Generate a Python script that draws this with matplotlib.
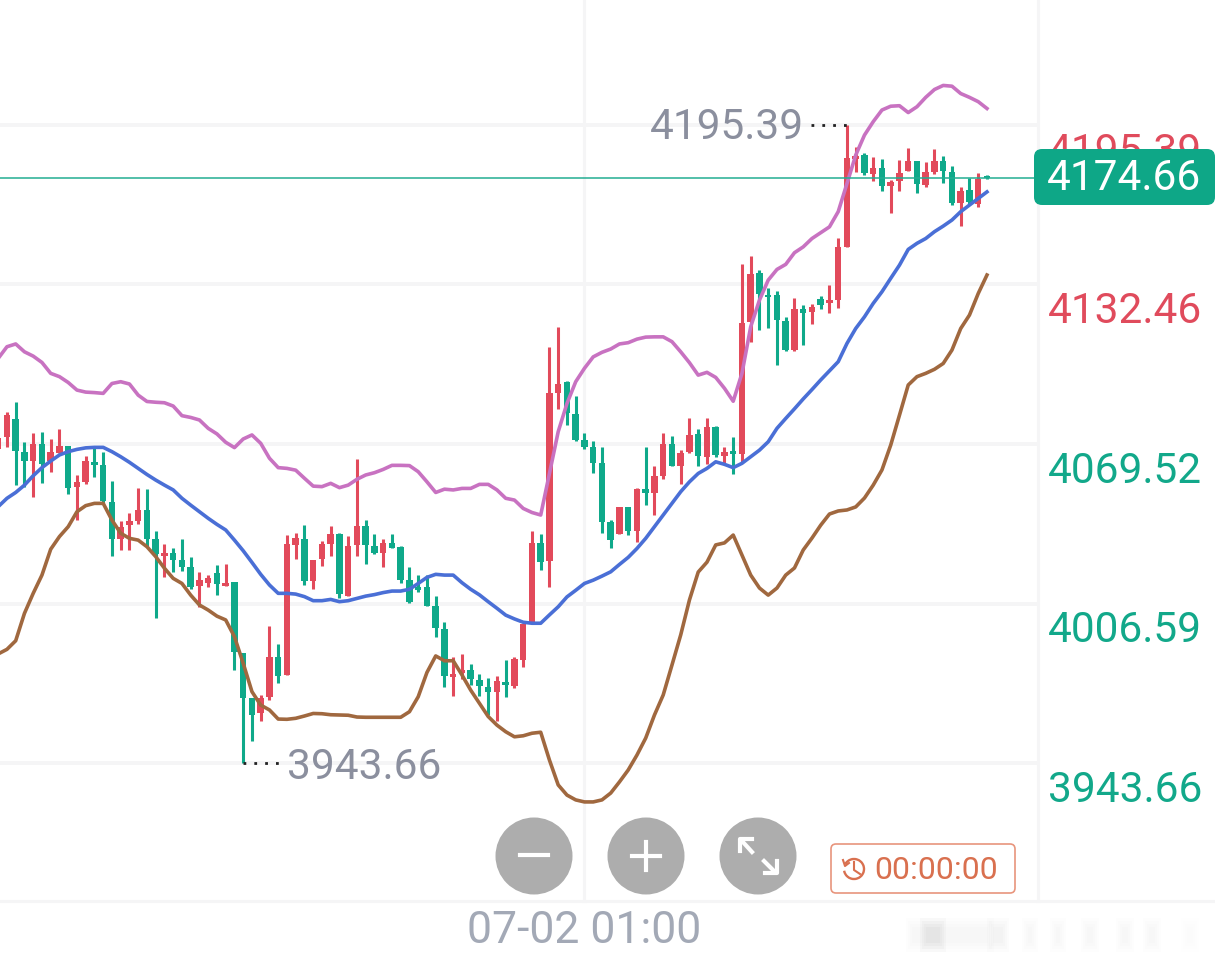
import numpy as np
import matplotlib
matplotlib.use("Agg")
import matplotlib.pyplot as plt
from matplotlib.patches import Arc, Circle, FancyBboxPatch

plt.rcParams['font.family'] = ['Roboto', 'DejaVu Sans']

high = [4075.0, 4082.0, 4086.0, 4070.2, 4074.0, 4074.4, 4071.6, 4075.4, 4068.9, 4057.3,
        4064.8, 4067.8, 4066.5, 4055.1, 4039.3, 4042.2, 4052.3, 4051.6, 4035.2, 4030.1,
        4028.4, 4031.9, 4025.1, 4019.2, 4017.8, 4021.8, 4022.2, 4015.0, 3986.9, 3969.5,
        3970.5, 3997.7, 3990.5, 4033.6, 4034.5, 4037.6, 4023.8, 4031.3, 4037.2, 4034.3,
        4033.2, 4063.5, 4039.5, 4033.9, 4032.0, 4033.9, 4029.3, 4020.9, 4017.8, 4017.8,
        4009.6, 3999.4, 3985.6, 3986.7, 3982.7, 3978.7, 3977.3, 3978.0, 3984.3, 3985.6,
        3998.4, 4035.3, 4033.9, 4107.9, 4115.8, 4094.5, 4088.4, 4073.7, 4070.7, 4068.2,
        4039.5, 4044.8, 4044.8, 4052.3, 4068.4, 4060.8, 4074.0, 4072.6, 4067.1, 4079.6,
        4075.3, 4079.9, 4076.7, 4068.4, 4072.1, 4140.4, 4143.8, 4138.1, 4130.9, 4130.0,
        4119.7, 4127.0, 4124.3, 4124.7, 4127.9, 4132.2, 4150.9, 4195.39, 4186.8, 4184.4,
        4182.6, 4181.8, 4173.6, 4181.5, 4186.5, 4181.3, 4180.9, 4186.1, 4183.1, 4179.2,
        4171.0, 4174.6, 4176.3, 4175.5]
low = [4064.8, 4068.5, 4053.4, 4052.4, 4048.5, 4054.0, 4058.6, 4065.8, 4049.8, 4039.5,
       4053.7, 4056.4, 4046.1, 4025.3, 4027.7, 4027.7, 4037.8, 4029.0, 4000.8, 4016.9,
       4018.9, 4019.6, 4012.2, 4005.4, 4013.0, 4009.8, 4013.5, 3980.4, 3943.66, 3952.5,
       3960.4, 3968.5, 3975.4, 3978.4, 4024.0, 4013.9, 4012.3, 4021.5, 4025.5, 4008.9,
       4009.7, 4025.5, 4022.2, 4026.0, 4020.9, 4028.4, 4014.8, 4006.7, 4011.3, 4005.6,
       3993.3, 3973.8, 3970.1, 3976.7, 3974.4, 3970.1, 3962.6, 3960.2, 3969.6, 3973.1,
       3981.7, 3998.8, 4019.8, 4013.0, 4083.2, 4077.0, 4070.8, 4067.5, 4057.9, 4034.6,
       4028.6, 4034.0, 4033.6, 4031.0, 4045.4, 4041.5, 4055.7, 4060.8, 4053.6, 4066.1,
       4060.8, 4061.6, 4064.2, 4061.9, 4057.6, 4062.5, 4109.9, 4114.5, 4115.1, 4100.7,
       4106.3, 4106.3, 4108.6, 4116.7, 4122.6, 4121.4, 4123.3, 4147.3, 4176.7, 4175.6,
       4173.4, 4169.4, 4160.8, 4169.4, 4177.2, 4168.7, 4171.0, 4176.0, 4172.6, 4163.8,
       4155.6, 4164.4, 4163.1, 4173.9]
open_ = [4067.4, 4072.4, 4079.3, 4066.5, 4063.0, 4069.4, 4063.0, 4066.1, 4068.9, 4052.4,
         4054.7, 4062.3, 4061.2, 4046.8, 4031.9, 4037.7, 4039.3, 4043.5, 4031.9, 4025.3,
         4026.7, 4023.8, 4020.9, 4013.6, 4014.6, 4018.5, 4013.6, 4015.0, 3986.9, 3969.2,
         3963.3, 3969.8, 3985.4, 3978.4, 4029.7, 4032.0, 4015.6, 4024.0, 4030.1, 4034.0,
         4009.7, 4029.5, 4037.2, 4029.3, 4026.4, 4030.6, 4028.8, 4015.9, 4013.2, 4013.2,
         4005.6, 3996.4, 3977.7, 3979.0, 3980.4, 3976.4, 3973.8, 3971.8, 3975.8, 3974.1,
         3984.3, 3998.8, 4030.3, 4023.5, 4089.7, 4093.8, 4081.2, 4071.1, 4068.2, 4062.1,
         4038.8, 4034.2, 4044.8, 4035.3, 4051.6, 4050.3, 4057.0, 4069.7, 4060.8, 4066.3,
         4073.4, 4064.5, 4076.3, 4064.9, 4066.7, 4065.4, 4117.8, 4136.8, 4128.5, 4128.3,
         4118.2, 4106.8, 4122.6, 4121.7, 4126.6, 4125.0, 4126.3, 4147.3, 4181.9, 4183.5,
         4175.9, 4178.6, 4171.3, 4173.4, 4177.2, 4181.1, 4171.7, 4176.9, 4181.1, 4176.9,
         4164.7, 4169.7, 4164.4, 4175.2]
close = [4071.8, 4081.0, 4066.9, 4063.0, 4069.5, 4061.5, 4066.4, 4068.7, 4052.3, 4054.5,
         4063.0, 4061.1, 4047.0, 4031.9, 4036.7, 4039.3, 4043.5, 4031.9, 4026.1, 4026.7,
         4023.8, 4021.1, 4013.2, 4015.9, 4016.5, 4014.3, 4014.6, 3987.6, 3969.5, 3962.6,
         3969.5, 3985.4, 3978.0, 4030.1, 4032.3, 4015.6, 4023.8, 4030.1, 4034.0, 4010.2,
         4029.3, 4037.2, 4029.5, 4026.4, 4030.6, 4028.6, 4015.9, 4007.3, 4011.9, 4005.6,
         3996.8, 3978.0, 3978.8, 3980.4, 3976.7, 3974.1, 3971.8, 3976.2, 3974.4, 3984.6,
         3998.4, 4030.6, 4022.8, 4089.7, 4093.2, 4081.6, 4071.1, 4068.2, 4062.2, 4038.8,
         4031.6, 4044.8, 4035.2, 4051.7, 4050.0, 4056.9, 4069.7, 4060.8, 4066.1, 4073.0,
         4064.7, 4076.1, 4065.1, 4066.2, 4065.4, 4117.4, 4136.6, 4128.9, 4127.4, 4118.4,
         4106.8, 4122.6, 4121.4, 4123.7, 4124.3, 4126.3, 4147.3, 4182.2, 4183.1, 4176.3,
         4178.6, 4171.3, 4173.0, 4176.5, 4181.1, 4172.3, 4176.9, 4181.1, 4177.3, 4164.7,
         4169.4, 4165.1, 4173.9, 4174.66]

boll_upper = [4103.3, 4107.9, 4109.0, 4105.9, 4104.2, 4101.7, 4097.4, 4096.1, 4093.8, 4090.8,
              4090.0, 4089.8, 4089.5, 4093.4, 4094.1, 4093.2, 4088.8, 4086.3, 4086.0, 4085.8,
              4084.5, 4080.7, 4080.0, 4079.0, 4075.7, 4073.5, 4070.2, 4068.1, 4071.5, 4073.1,
              4069.8, 4063.9, 4060.2, 4059.9, 4059.2, 4056.0, 4052.9, 4052.7, 4054.0, 4052.3,
              4053.3, 4055.6, 4057.3, 4058.2, 4059.5, 4061.1, 4061.1, 4061.0, 4058.6, 4054.6,
              4050.4, 4051.7, 4051.4, 4052.0, 4052.0, 4053.6, 4053.6, 4051.4, 4048.1, 4047.4,
              4044.1, 4042.5, 4041.5, 4057.9, 4074.4, 4085.5, 4094.1, 4099.4, 4103.9, 4105.7,
              4107.0, 4109.0, 4109.5, 4110.9, 4111.7, 4111.8, 4111.8, 4109.9, 4105.9, 4101.6,
              4096.7, 4097.8, 4095.8, 4091.5, 4086.4, 4097.4, 4115.8, 4126.3, 4134.2, 4138.4,
              4140.4, 4145.0, 4147.3, 4150.6, 4152.9, 4155.2, 4161.2, 4172.3, 4183.5, 4191.4,
              4196.7, 4201.3, 4202.8, 4203.0, 4200.3, 4202.6, 4206.3, 4209.4, 4211.0, 4210.7,
              4207.8, 4206.3, 4204.6, 4201.9]
boll_mid = [4044.8, 4048.1, 4050.4, 4053.3, 4057.0, 4060.2, 4062.8, 4065.2, 4066.5, 4067.4,
            4068.0, 4068.2, 4068.2, 4066.5, 4064.5, 4062.3, 4059.9, 4057.5, 4055.3, 4053.3,
            4051.4, 4048.1, 4045.4, 4042.8, 4040.2, 4037.8, 4035.6, 4031.6, 4027.4, 4022.8,
            4018.1, 4013.9, 4010.6, 4010.6, 4010.3, 4009.3, 4007.7, 4007.7, 4008.2, 4007.3,
            4007.7, 4008.6, 4009.5, 4010.1, 4010.9, 4011.5, 4011.5, 4012.2, 4014.5, 4016.9,
            4018.1, 4017.8, 4017.8, 4014.8, 4012.2, 4010.0, 4007.3, 4004.7, 4002.0, 4000.5,
            3999.2, 3998.8, 3998.8, 4002.1, 4005.3, 4009.2, 4011.8, 4014.5, 4015.8, 4017.4,
            4019.1, 4022.0, 4024.8, 4028.3, 4032.3, 4036.9, 4041.5, 4046.1, 4050.7, 4054.6,
            4057.9, 4059.9, 4062.5, 4061.5, 4060.2, 4061.9, 4064.5, 4067.1, 4070.4, 4075.7,
            4079.6, 4083.4, 4087.3, 4091.0, 4094.8, 4098.4, 4102.0, 4109.2, 4115.1, 4119.7,
            4125.0, 4129.6, 4134.9, 4140.1, 4146.3, 4148.7, 4150.6, 4153.3, 4155.5, 4157.9,
            4161.2, 4163.8, 4166.4, 4169.0]
boll_lower = [3986.7, 3988.5, 3991.9, 4002.7, 4010.6, 4017.8, 4028.0, 4033.0, 4036.9, 4042.8,
              4045.2, 4046.1, 4046.1, 4039.5, 4034.3, 4032.3, 4031.6, 4029.0, 4025.1, 4020.5,
              4016.5, 4014.5, 4009.9, 4006.0, 4004.0, 4001.6, 4000.1, 3993.5, 3983.0, 3971.8,
              3966.5, 3964.6, 3961.0, 3960.9, 3961.3, 3962.2, 3963.2, 3963.1, 3962.7, 3962.6,
              3962.5, 3961.8, 3961.7, 3961.7, 3961.7, 3961.7, 3961.7, 3963.9, 3969.8, 3979.4,
              3985.9, 3984.0, 3984.0, 3978.4, 3972.4, 3967.2, 3962.0, 3958.6, 3956.0, 3954.0,
              3954.4, 3955.4, 3955.8, 3944.8, 3935.0, 3931.0, 3929.1, 3928.3, 3928.3, 3929.1,
              3931.8, 3936.2, 3940.9, 3946.8, 3953.5, 3962.6, 3970.5, 3982.3, 3994.2, 4008.0,
              4019.0, 4022.9, 4029.7, 4030.5, 4033.6, 4025.7, 4017.8, 4012.7, 4009.9, 4012.7,
              4017.8, 4020.6, 4027.7, 4032.4, 4037.5, 4041.9, 4043.1, 4043.5, 4044.7, 4048.2,
              4053.3, 4059.3, 4069.1, 4080.9, 4092.8, 4096.1, 4097.4, 4099.0, 4101.3, 4106.6,
              4115.1, 4120.4, 4128.9, 4136.2]

price_ticks = [4195.39, 4132.46, 4069.52, 4006.59, 3943.66]
price_colors = ['#e04b5c', '#e04b5c', '#12a88a', '#12a88a', '#12a88a']
time_tick = 67
time_label = '07-02 01:00'
last_price = 4174.66
period_high = 4195.39
period_low = 3943.66
high_idx = 97
low_idx = 28
countdown = '00:00:00'

UP = '#e24a5b'
DOWN = '#0fa98a'
GRID = '#f5f5f6'

fig = plt.figure(figsize=(12.15, 9.6), dpi=100)
ax = fig.add_axes([0, 0, 1, 1])
ax.set_xlim(0.206, 139.06)
ax.set_ylim(3865.93, 4244.71)
ax.axis('off')

x = np.arange(len(close))
o = np.array(open_)
c = np.array(close)
colors = [UP if b >= a else DOWN for a, b in zip(o, c)]

# grid stops at the price column
panel_x = 0.8543
panel_bottom = 0.0615
ytrans = ax.get_yaxis_transform()
xtrans = ax.get_xaxis_transform()
for p in price_ticks:
    ax.plot([0, panel_x], [p, p], transform=ytrans, color=GRID, lw=2.8, zorder=1, clip_on=False)
ax.plot([panel_x, panel_x], [panel_bottom, 1], transform=ax.transAxes, color=GRID, lw=2.2, zorder=1)
ax.plot([0, 1], [panel_bottom, panel_bottom], transform=ax.transAxes, color=GRID, lw=2.2, zorder=1)
ax.plot([time_tick, time_tick], [panel_bottom, 1], transform=xtrans, color=GRID, lw=2.2, zorder=1)

# candles
ax.vlines(x, low, high, colors=colors, lw=2.2, zorder=3)
ax.bar(x, np.abs(c - o), bottom=np.minimum(o, c), width=0.74, color=colors, zorder=3)

ax.plot(x, boll_upper, color='#c872c1', lw=2.6, zorder=4, solid_joinstyle='round')
ax.plot(x, boll_mid, color='#4a6fd6', lw=2.6, zorder=4, solid_joinstyle='round')
ax.plot(x, boll_lower, color='#a0683f', lw=2.6, zorder=4, solid_joinstyle='round')

ax.axhline(last_price, color='#23ad92', lw=1.1, zorder=5)

# high / low markers
ax.plot([high_idx - 4.1, high_idx], [period_high, period_high], color='#222222', lw=2.0,
        ls=(0, (1.0, 2.9)), zorder=5)
ax.plot([low_idx, low_idx + 4.2], [period_low, period_low], color='#222222', lw=2.0,
        ls=(0, (1.0, 2.9)), zorder=5)
ax.annotate(f'{period_high:.2f}', xy=(high_idx - 4.9, period_high), xytext=(0, -1.6),
            textcoords='offset points', color='#8b8f9e', fontsize=30.5, ha='right', va='center', zorder=5)
ax.annotate(f'{period_low:.2f}', xy=(low_idx + 5.0, period_low), xytext=(0, -3.5),
            textcoords='offset points', color='#8b8f9e', fontsize=30.5, ha='left', va='center', zorder=5)

# price column labels sit just under their grid lines
for p, col in zip(price_ticks, price_colors):
    ax.annotate(f'{p:.2f}', xy=(0.8626, p), xycoords=ytrans, xytext=(0, -19.5),
                textcoords='offset points', color=col, fontsize=30.5, ha='left', va='center')

ax.text(time_tick, 0.0305, time_label, transform=xtrans, color='#a3a9b6', fontsize=32,
        ha='center', va='center')

# overlay in screen pixels for the widgets
ui = fig.add_axes([0, 0, 1, 1], facecolor='none')
ui.set_xlim(0, 1215)
ui.set_ylim(960, 0)
ui.axis('off')

ui.add_patch(FancyBboxPatch((1038, 153), 173, 48, boxstyle='round,pad=4,rounding_size=8',
                            fc='#0ea787', ec='none', zorder=6))
ui.text(1124.5, 179, f'{last_price:.2f}', color='white', fontsize=30.5, ha='center', va='center',
        zorder=7)

for cx in (534, 646, 758):
    ui.add_patch(Circle((cx, 856), 38.5, fc='#adadad', ec='none', zorder=6))
ui.plot([520, 548], [855, 855], color='white', lw=3, zorder=7)
ui.plot([632, 660], [856, 856], color='white', lw=3, zorder=7)
ui.plot([646, 646], [842, 870], color='white', lw=3, zorder=7)
# expand icon
ui.plot([742, 752], [841, 852], color='white', lw=3, zorder=7)
ui.plot([740, 740, 752], [851, 839, 839], color='white', lw=3, zorder=7)
ui.plot([764, 775], [861, 872], color='white', lw=3, zorder=7)
ui.plot([777, 777, 765], [861, 873, 873], color='white', lw=3, zorder=7)

ui.add_patch(FancyBboxPatch((834, 847), 178, 43, boxstyle='round,pad=3,rounding_size=5',
                            fc='white', ec='#e8957d', lw=1.2, zorder=6))
ui.add_patch(Arc((854, 869), 20, 20, theta1=-150, theta2=170, ec='#d9704f', lw=1.7, zorder=7))
ui.plot([854, 854, 860], [862, 870, 874], color='#d9704f', lw=1.5, zorder=7)
ui.plot([843, 845, 849], [860, 866, 863], color='#d9704f', lw=1.5, zorder=7)
ui.text(936.5, 870.5, countdown, color='#d9704f', fontsize=23, ha='center', va='center', zorder=7)

# faint smudge at the bottom right, stacked so the edges fade out
for sx, sw, a in [(933, 9, 0.035), (950, 40, 0.012), (998, 7, 0.025), (1030, 4, 0.012), (1058, 4, 0.012),
                  (1090, 5, 0.01), (1125, 5, 0.012), (1152, 5, 0.01), (1190, 5, 0.008)]:
    for k in range(4):
        ui.fill_between([sx - sw - 4 + k * 2, sx + sw + 4 - k * 2], 918 + k * 3, 952 - k * 3,
                        color='#888888', alpha=a, lw=0, zorder=2)

fig.savefig('out.png', dpi=100)
